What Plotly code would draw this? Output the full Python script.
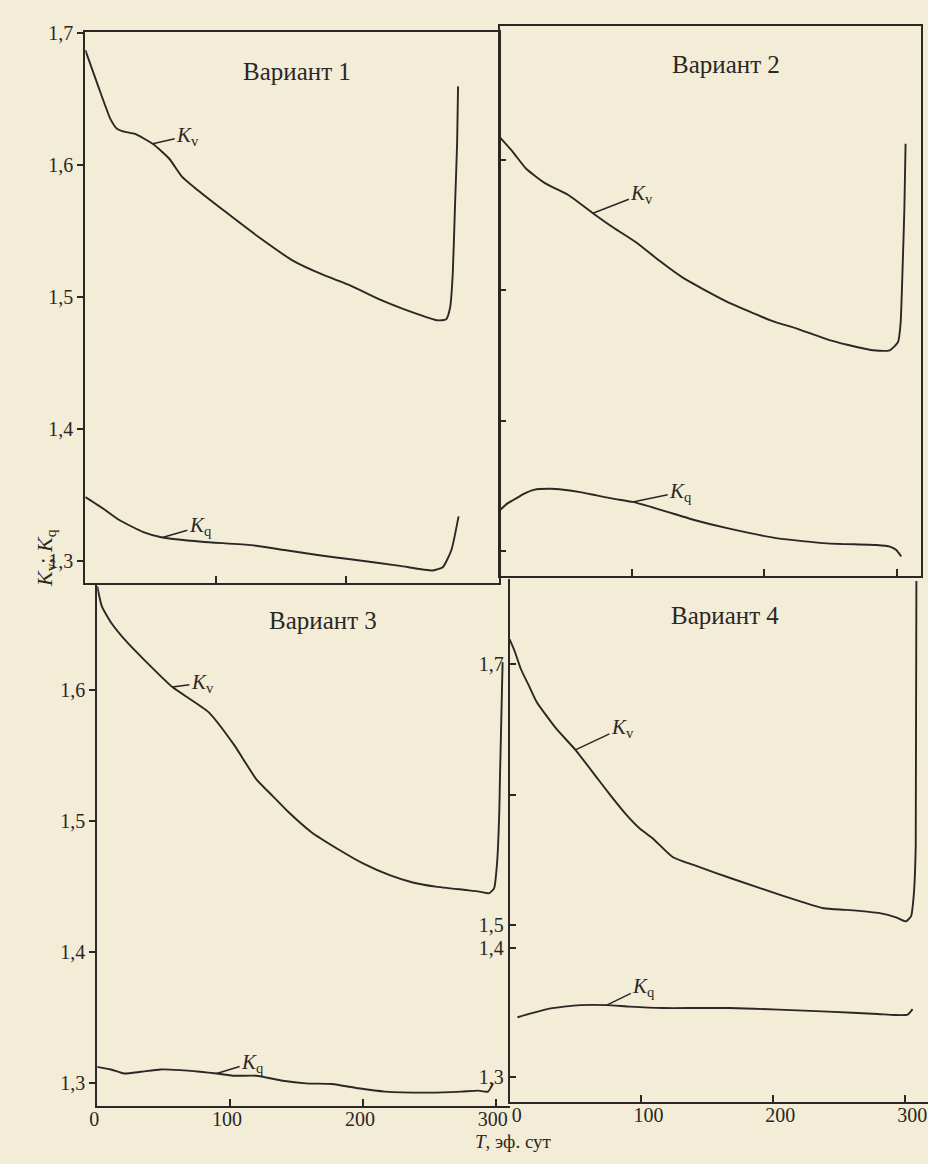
import plotly.graph_objects as go

W, H = 928, 1164
BG = "#f3ecd6"
INK = "#2b2724"
FONT = "Liberation Serif"

# ---------------- data (T, эф. сут ; K) ----------------
v1_T_kv = [0, 9.9, 19.3, 24.5, 30.6, 38.1, 51.7, 64.4, 74.1, 84.6, 107, 134, 159.5, 182.2, 201.8,
           227.5, 244.7, 257.7, 269.8, 276.7, 279.8, 281.8, 283.5, 285.2, 285.9]
v1_Kv = [1.687, 1.6595, 1.6347, 1.6272, 1.625, 1.6235, 1.616, 1.6047, 1.5912, 1.5822, 1.5649, 1.5447,
         1.5274, 1.5169, 1.5094, 1.4974, 1.4906, 1.4861, 1.4824, 1.4831, 1.4921, 1.5169, 1.5672, 1.6174, 1.6595]
v1_T_kq = [0, 13.8, 26.4, 44, 59.1, 89.4, 127.5, 152.7, 178.1, 203.3, 241.3, 266.5, 274.2, 280.8, 286.3]
v1_Kq = [1.3486, 1.3398, 1.331, 1.3223, 1.318, 1.3148, 1.3122, 1.3085, 1.3047, 1.3015, 1.2965, 1.293,
         1.2955, 1.3085, 1.334]

v2_T_kv = [0, 10, 19.8, 34.5, 51.8, 70.4, 86.4, 103.7, 121, 138.3, 170.4, 205.2, 225, 249.9, 269.7,
           282.2, 294.7, 301, 302.9, 304.3, 305.8, 306.7]
v2_Kv = [1.6172, 1.6058, 1.5932, 1.5818, 1.5729, 1.559, 1.5476, 1.5362, 1.5223, 1.5096, 1.4919, 1.4767,
         1.4704, 1.4615, 1.4565, 1.454, 1.454, 1.4603, 1.4742, 1.5121, 1.5628, 1.6122]
v2_T_kq = [0, 5.6, 10.6, 18.2, 25.8, 38.3, 48.2, 60.7, 73.1, 85.6, 100.5, 122.9, 147.7, 172.7, 210,
           247.3, 284.8, 294.8, 299.7, 303.4]
v2_Kq = [1.3314, 1.3365, 1.3395, 1.344, 1.3471, 1.3479, 1.3471, 1.3453, 1.3428, 1.3403, 1.3378, 1.3314,
         1.3238, 1.3175, 1.3099, 1.3061, 1.3048, 1.3036, 1.301, 1.296]

v3_T_kv = [0, 3.4, 10.5, 22.6, 34.8, 56.6, 83.6, 103, 119.8, 131.9, 144.1, 161.2, 180.7, 200.4, 220.1,
           237.5, 254.8, 277.6, 287.5, 294.9, 298.7, 301, 302.6, 303.1, 305.1]
v3_Kv = [1.6793, 1.6642, 1.6515, 1.6364, 1.6237, 1.6023, 1.5833, 1.5581, 1.5318, 1.5192, 1.5066, 1.4914,
         1.4788, 1.4674, 1.4586, 1.453, 1.4498, 1.4472, 1.446, 1.4447, 1.4485, 1.4687, 1.5066, 1.5318, 1.6212]
v3_T_kq = [0, 10.3, 20.2, 32.7, 47.6, 62.5, 77.5, 89.9, 102.2, 119.7, 139.5, 156.9, 176.7, 196.6, 216.5,
           251.3, 274.2, 286.6, 294.1, 298]
v3_Kq = [1.3121, 1.3101, 1.307, 1.3083, 1.3101, 1.3096, 1.3083, 1.307, 1.3053, 1.3053, 1.3015, 1.2995,
         1.299, 1.2957, 1.2932, 1.2924, 1.2932, 1.2939, 1.2932, 1.2995]

v4_T_kv = [0, 3.7, 8.5, 14.5, 20.5, 35.2, 49.9, 67.1, 76.8, 89.1, 98.9, 108.8, 123.6, 143.5, 168.4,
           205.7, 238.1, 255.6, 280.7, 293.1, 300.5, 304.4, 306.5, 308, 308.5]
v4_Kv = [1.7192, 1.7104, 1.6964, 1.6838, 1.6711, 1.6508, 1.6344, 1.6118, 1.5991, 1.5839, 1.5738, 1.5662,
         1.5522, 1.5446, 1.5357, 1.523, 1.5129, 1.5116, 1.5091, 1.5059, 1.5028, 1.5066, 1.523, 1.5611, 1.7639]
v4_T_kq = [6, 16.1, 28.6, 41.1, 53.7, 73.7, 91.3, 116.3, 141.4, 166.5, 204.1, 241.7, 279.2, 291.7, 301.8, 305.6]
v4_Kq = [1.3462, 1.3492, 1.3525, 1.3544, 1.3556, 1.3556, 1.3544, 1.3533, 1.3533, 1.3533, 1.3521, 1.3505,
         1.3487, 1.3479, 1.3482, 1.3525]

panel_titles = ["Вариант 1", "Вариант 2", "Вариант 3", "Вариант 4"]
y_ticks_left = [1.3, 1.4, 1.5, 1.6, 1.7]
y_ticktext_left = ["1,3", "1,4", "1,5", "1,6", "1,7"]
x_ticks = [0, 100, 200, 300]
x_ticktext = ["0", "100", "200", "300"]
v4_upper_ticks = [1.5, 1.6, 1.7]
v4_upper_text = ["1,5", " ", "1,7"]
v4_lower_ticks = [1.3, 1.4]
v4_lower_text = ["1,3", "1,4"]
y_title = "<i>K</i><sub>v</sub>; <i>K</i><sub>q</sub>"
x_title = "<i>T</i>, эф. сут"
kv_label = "<i>K</i><sub>v</sub>"
kq_label = "<i>K</i><sub>q</sub>"


def px(x):
    return x / W


def py(y):
    return 1 - y / H


fig = go.Figure()
line = dict(color=INK, width=1.9, shape="spline", smoothing=0.5)
series = [
    (v1_T_kv, v1_Kv, "x", "y"), (v1_T_kq, v1_Kq, "x", "y"),
    (v2_T_kv, v2_Kv, "x2", "y2"), (v2_T_kq, v2_Kq, "x2", "y2"),
    (v3_T_kv, v3_Kv, "x3", "y3"), (v3_T_kq, v3_Kq, "x3", "y3"),
    (v4_T_kv, v4_Kv, "x4", "y4"), (v4_T_kq, v4_Kq, "x4", "y5"),
]
for xs, ys, xa, ya in series:
    fig.add_trace(go.Scatter(x=xs, y=ys, xaxis=xa, yaxis=ya, mode="lines", line=line,
                             hoverinfo="skip", showlegend=False))

tickfont = dict(family=FONT, size=20, color=INK)
base = dict(showgrid=False, zeroline=False, showline=True, linecolor=INK, linewidth=2,
            tickcolor=INK, tickwidth=1.6, tickfont=tickfont, fixedrange=True)

layout = dict(
    width=W, height=H, paper_bgcolor=BG, plot_bgcolor=BG,
    margin=dict(l=0, r=0, t=0, b=0, pad=0), showlegend=False,
    font=dict(family=FONT, color=INK),
    # Panel 1
    xaxis=dict(base, domain=[px(78), px(495)], range=[0, 317.1], anchor="y", mirror=True,
               ticks="inside", ticklen=7, tickvals=[100, 200], showticklabels=False),
    yaxis=dict(base, domain=[py(578), py(22)], range=[1.2835, 1.7008], anchor="x", mirror=True,
               ticks="outside", ticklen=6, tickvals=y_ticks_left, ticktext=y_ticktext_left),
    # Panel 2
    xaxis2=dict(base, domain=[px(496), px(921)], range=[0, 318.4], anchor="y2", mirror=True,
                ticks="inside", ticklen=7, tickvals=[100, 200, 300], showticklabels=False),
    yaxis2=dict(base, domain=[py(571), py(16)], range=[1.281, 1.7025], anchor="x2", mirror=True,
                ticks="inside", ticklen=6, tickvals=y_ticks_left[:4], showticklabels=False),
    # Panel 3
    xaxis3=dict(base, domain=[px(90), px(506)], range=[0, 310.4], anchor="y3",
                ticks="inside", ticklen=7, tickvals=x_ticks, ticktext=x_ticktext,
                ticklabelshift=-3, ticklabelstandoff=-6),
    yaxis3=dict(base, domain=[py(1106), py(578)], range=[1.2818, 1.6818], anchor="x3",
                ticks="outside", ticklen=6, tickvals=y_ticks_left[:4], ticktext=y_ticktext_left[:4]),
    # Panel 4 (broken y axis)
    xaxis4=dict(base, domain=[px(506), 1.0], range=[0, 317.3], anchor="y5",
                ticks="inside", ticklen=7, tickvals=x_ticks, ticktext=x_ticktext,
                ticklabelshift=7, ticklabelstandoff=-6),
    yaxis4=dict(base, domain=[py(934), py(574)], range=[1.4916, 1.7654], anchor="x4",
                ticks="inside", ticklen=6, tickvals=v4_upper_ticks, ticktext=v4_upper_text),
    yaxis5=dict(base, domain=[py(1101), py(934)], range=[1.2808, 1.4092], anchor="x4",
                ticks="inside", ticklen=6, tickvals=v4_lower_ticks, ticktext=v4_lower_text),
)
fig.update_layout(**layout)

title_font = dict(family=FONT, size=25, color=INK)
for text, (cx, cy) in zip(panel_titles, [(292, 62), (724, 55), (318, 616), (723, 611)]):
    fig.add_annotation(text=text, x=px(cx), y=py(cy), xref="paper", yref="paper",
                       showarrow=False, font=title_font, xanchor="center", yanchor="middle")

lab_font = dict(family=FONT, size=21, color=INK)
labels = [
    (kv_label, "x", "y", v1_T_kv[6], v1_Kv[6], 35, -8),
    (kq_label, "x", "y", v1_T_kq[4], v1_Kq[4], 38, -11),
    (kv_label, "x2", "y2", v2_T_kv[5], v2_Kv[5], 49, -19),
    (kq_label, "x2", "y2", v2_T_kq[10], v2_Kq[10], 48, -10),
    (kv_label, "x3", "y3", v3_T_kv[5], v3_Kv[5], 30, -4),
    (kq_label, "x3", "y3", v3_T_kq[7], v3_Kq[7], 36, -11),
    (kv_label, "x4", "y4", v4_T_kv[6], v4_Kv[6], 47, -22),
    (kq_label, "x4", "y5", v4_T_kq[5], v4_Kq[5], 37, -18),
]
for text, xr, yr, xv, yv, ax, ay in labels:
    fig.add_annotation(text=text, x=xv, y=yv, xref=xr, yref=yr, ax=ax, ay=ay,
                       showarrow=True, arrowhead=0, arrowwidth=1.5, arrowcolor=INK,
                       standoff=0, startstandoff=0, font=lab_font)

fig.add_annotation(text=y_title, x=px(22), y=py(553), xref="paper", yref="paper",
                   showarrow=False, textangle=-90, font=dict(family=FONT, size=22, color=INK))
fig.add_annotation(text=x_title, x=px(510), y=py(1154), xref="paper", yref="paper",
                   showarrow=False, font=dict(family=FONT, size=19, color=INK))

fig.write_html(
    "out.html",
    config={"displayModeBar": False},
    post_script="document.body.style.margin='0';document.body.style.overflow='hidden';",
)
